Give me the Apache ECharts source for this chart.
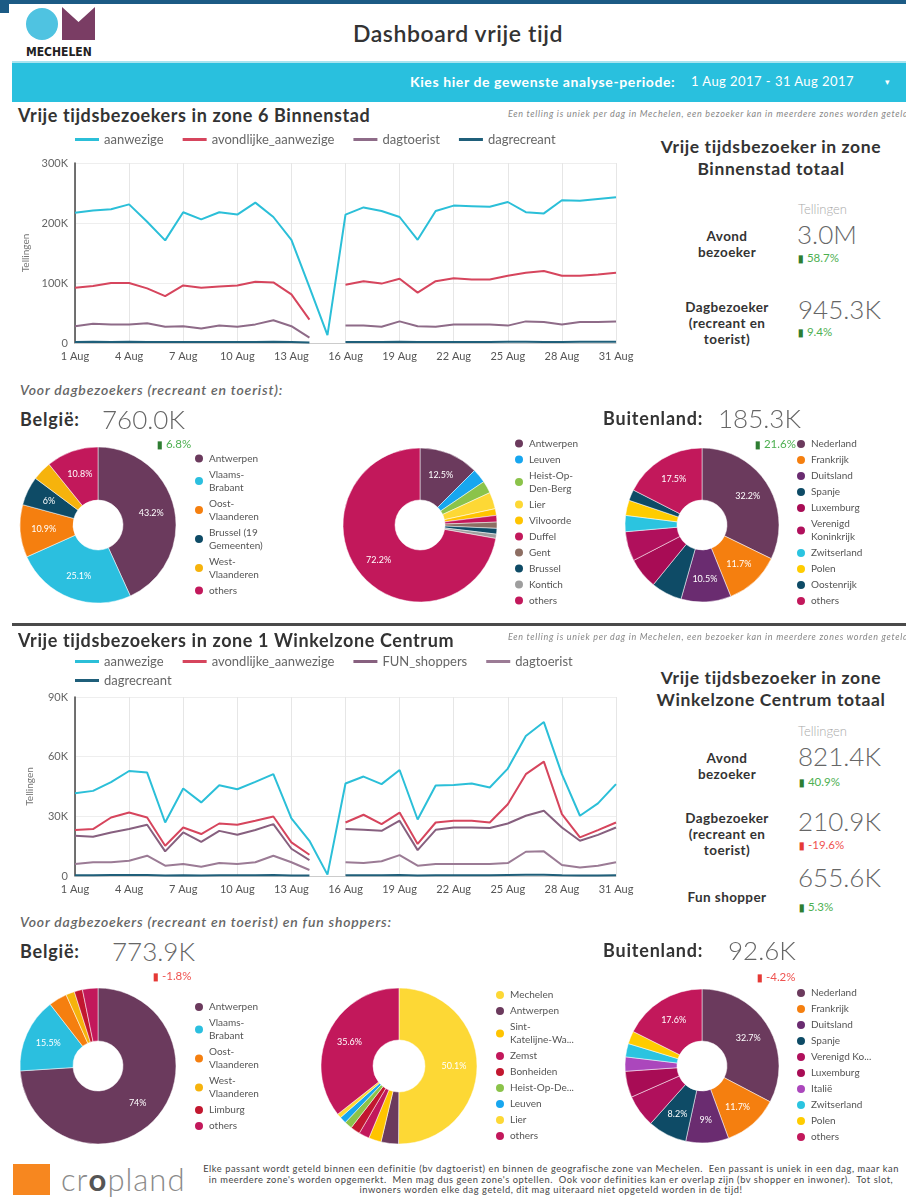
<!DOCTYPE html>
<html>
<head>
<meta charset="utf-8">
<title>Dashboard vrije tijd</title>
<script src="https://cdn.jsdelivr.net/npm/echarts/dist/echarts.min.js"></script>
<style>
html, body { margin: 0; padding: 0; background: #fff; }
body { width: 906px; height: 1198px; position: relative; overflow: hidden; font-family: Lato, "Open Sans", sans-serif; color: #333; }
.box { position: absolute; }
.l { position: absolute; transform: translateY(-50%); white-space: nowrap; line-height: 1.2; }
.c { position: absolute; transform: translate(-50%, -50%); white-space: nowrap; text-align: center; }
.sec { font-size: 18px; font-weight: 700; color: #333; letter-spacing: 0.6px; }
.note { font-size: 9px; font-style: italic; color: #888; letter-spacing: 0.7px; }
.kt { font-size: 17.5px; font-weight: 700; color: #333; line-height: 22px; letter-spacing: 0.6px; }
.kl { font-size: 13.5px; font-weight: 700; color: #333; line-height: 16px; letter-spacing: 0.4px; }
.tel { font-size: 13px; font-weight: 300; color: #aaa; }
.big { font-size: 26px; font-weight: 300; color: #666; }
.up { font-size: 11.5px; color: #4caf50; }
.up b, .down b { font-size: 10px; }
.up b { color: #2e7d32; }
.down { font-size: 11.5px; color: #ef5350; }
.down b { color: #e53935; }
.land { font-size: 18px; font-weight: 700; color: #333; letter-spacing: 0.8px; }
.voor { font-size: 14px; font-style: italic; font-weight: 600; color: #666; letter-spacing: 0.8px; }
</style>
</head>
<body>

<!-- header -->
<div class="box" style="left:0;top:0;width:906px;height:4px;background:#1c5b85"></div>
<div class="box" style="left:0;top:0;width:9px;height:13px;background:#1c5b85"></div>
<div class="box" style="left:26px;top:8px;width:32px;height:32px;border-radius:50%;background:#4fc3e1"></div>
<svg class="box" style="left:62px;top:7px" width="33" height="33"><polygon points="0,0 16.5,15 33,0 33,33 0,33" fill="#7a3d64"/></svg>
<div class="l" style="left:26px;top:52px;font-family:'DejaVu Sans Condensed','DejaVu Sans';font-stretch:condensed;font-weight:700;font-size:12px;color:#222">MECHELEN</div>
<div class="c" style="left:458px;top:33px;font-size:23px;font-weight:600;color:#333;letter-spacing:0.6px">Dashboard vrije tijd</div>
<div class="box" style="left:12px;top:61px;width:894px;height:2px;background:#a9e4ef"></div>
<div class="box" style="left:12px;top:63px;width:894px;height:39px;background:#29c0de"></div>
<div class="l" style="left:410px;top:82px;font-size:14px;font-weight:700;color:#fff;letter-spacing:0.6px">Kies hier de gewenste analyse-periode:</div>
<div class="l" style="left:691px;top:82px;font-size:13px;color:#fff;letter-spacing:0.45px">1 Aug 2017 - 31 Aug 2017</div>
<div class="l" style="left:885px;top:82px;font-size:9px;color:#fff">▾</div>

<!-- charts -->
<div id="line1" class="box" style="left:0;top:128px;width:640px;height:250px"></div>
<div id="line2" class="box" style="left:0;top:648px;width:640px;height:250px"></div>
<div id="pie1" class="box" style="left:0;top:435px;width:300px;height:180px"></div>
<div id="pie2" class="box" style="left:300px;top:435px;width:300px;height:180px"></div>
<div id="pie3" class="box" style="left:590px;top:435px;width:316px;height:180px"></div>
<div id="pie4" class="box" style="left:0;top:975px;width:300px;height:180px"></div>
<div id="pie5" class="box" style="left:300px;top:975px;width:300px;height:180px"></div>
<div id="pie6" class="box" style="left:590px;top:975px;width:316px;height:180px"></div>

<!-- section 1 -->
<div class="l sec" style="left:18px;top:116px">Vrije tijdsbezoekers in zone 6 Binnenstad</div>
<div class="l note" style="left:508px;top:114px">Een telling is uniek per dag in Mechelen, een bezoeker kan in meerdere zones worden geteld</div>
<div class="c kt" style="left:771px;top:158px">Vrije tijdsbezoeker in zone<br>Binnenstad totaal</div>
<div class="l tel" style="left:798px;top:210px">Tellingen</div>
<div class="c kl" style="left:727px;top:244px">Avond<br>bezoeker</div>
<div class="l big" style="left:797px;top:235px">3.0M</div>
<div class="l up" style="left:798px;top:258px"><b>▮</b> 58.7%</div>
<div class="c kl" style="left:727px;top:323px">Dagbezoeker<br>(recreant en<br>toerist)</div>
<div class="l big" style="left:798px;top:310px">945.3K</div>
<div class="l up" style="left:798px;top:332px"><b>▮</b> 9.4%</div>

<div class="l voor" style="left:20px;top:390px">Voor dagbezoekers (recreant en toerist):</div>
<div class="l land" style="left:20px;top:420px">België:</div>
<div class="l big" style="left:102px;top:420px">760.0K</div>
<div class="l up" style="left:157px;top:444px"><b>▮</b> 6.8%</div>
<div class="l land" style="left:603px;top:419px">Buitenland:</div>
<div class="l big" style="left:718px;top:419px">185.3K</div>
<div class="l up" style="left:755px;top:444px"><b>▮</b> 21.6%</div>

<div class="box" style="left:12px;top:623px;width:894px;height:3px;background:#4a4a4a"></div>

<!-- section 2 -->
<div class="l sec" style="left:18px;top:641px">Vrije tijdsbezoekers in zone 1 Winkelzone Centrum</div>
<div class="l note" style="left:508px;top:637px">Een telling is uniek per dag in Mechelen, een bezoeker kan in meerdere zones worden geteld</div>
<div class="c kt" style="left:771px;top:689px">Vrije tijdsbezoeker in zone<br>Winkelzone Centrum totaal</div>
<div class="l tel" style="left:798px;top:732px">Tellingen</div>
<div class="c kl" style="left:727px;top:766px">Avond<br>bezoeker</div>
<div class="l big" style="left:798px;top:757px">821.4K</div>
<div class="l up" style="left:799px;top:782px"><b>▮</b> 40.9%</div>
<div class="c kl" style="left:727px;top:834px">Dagbezoeker<br>(recreant en<br>toerist)</div>
<div class="l big" style="left:798px;top:822px">210.9K</div>
<div class="l down" style="left:799px;top:845px"><b>▮</b> -19.6%</div>
<div class="c kl" style="left:727px;top:897px">Fun shopper</div>
<div class="l big" style="left:798px;top:878px">655.6K</div>
<div class="l up" style="left:799px;top:907px"><b>▮</b> 5.3%</div>

<div class="l voor" style="left:20px;top:922px">Voor dagbezoekers (recreant en toerist) en fun shoppers:</div>
<div class="l land" style="left:20px;top:952px">België:</div>
<div class="l big" style="left:112px;top:952px">773.9K</div>
<div class="l down" style="left:153px;top:976px"><b>▮</b> -1.8%</div>
<div class="l land" style="left:603px;top:951px">Buitenland:</div>
<div class="l big" style="left:728px;top:951px">92.6K</div>
<div class="l down" style="left:757px;top:977px"><b>▮</b> -4.2%</div>

<!-- footer -->
<div class="box" style="left:13px;top:1164px;width:37px;height:31px;background:#f7871f"></div>
<div class="l" style="left:61px;top:1180px;font-size:31px;font-weight:300;color:#8a8a8a;letter-spacing:1px">cr<span style="color:#555;font-weight:700">o</span>pland</div>
<div class="c" style="left:551px;top:1180px;font-size:9.3px;line-height:10.5px;color:#444;letter-spacing:0.55px">Elke passant wordt geteld binnen een definitie (bv dagtoerist) en binnen de geografische zone van Mechelen.&nbsp; Een passant is uniek in een dag, maar kan<br>in meerdere zone's worden opgemerkt.&nbsp; Men mag dus geen zone's optellen.&nbsp; Ook voor definities kan er overlap zijn (bv shopper en inwoner).&nbsp; Tot slot,<br>inwoners worden elke dag geteld, dit mag uiteraard niet opgeteld worden in de tijd!</div>

<script>
const FONT = "Lato, 'Open Sans', sans-serif";

const days = ['1 Aug', '2 Aug', '3 Aug', '4 Aug', '5 Aug', '6 Aug', '7 Aug', '8 Aug', '9 Aug', '10 Aug',
  '11 Aug', '12 Aug', '13 Aug', '14 Aug', '15 Aug', '16 Aug', '17 Aug', '18 Aug', '19 Aug', '20 Aug',
  '21 Aug', '22 Aug', '23 Aug', '24 Aug', '25 Aug', '26 Aug', '27 Aug', '28 Aug', '29 Aug', '30 Aug', '31 Aug'];

// zone 6 Binnenstad, in duizenden
const binNames = ['aanwezige', 'avondlijke_aanwezige', 'dagtoerist', 'dagrecreant'];
const binAanwezige = [217, 221, 223, 231, 202, 171, 218, 206, 218, 214, 234, 210, 172, 93, 13, 214, 226, 220, 210, 172, 220, 229, 228, 227, 235, 218, 216, 238, 237, 240, 243];
const binAvond = [92, 95, 100, 100, 91, 78, 96, 92, 94, 96, 102, 101, 81, 39, null, 97, 103, 99, 107, 84, 103, 108, 106, 106, 112, 117, 120, 112, 112, 114, 117];
const binDagtoerist = [28, 32, 31, 31, 33, 27, 28, 24, 29, 27, 31, 38, 28, 9, null, 29, 29, 27, 36, 28, 27, 31, 31, 31, 29, 36, 35, 31, 35, 35, 36];
const binDagrecreant = [1.8, 1.9, 1.8, 1.9, 1.8, 1.5, 1.7, 1.6, 1.7, 1.7, 1.8, 1.9, 1.5, 0.7, null, 1.7, 1.8, 1.7, 1.9, 1.5, 1.7, 1.8, 1.8, 1.8, 1.9, 1.9, 1.8, 1.8, 1.9, 1.9, 2.0];
const binTicks = [0, 300, 100];

// zone 1 Winkelzone Centrum, in duizenden
const winNames = ['aanwezige', 'avondlijke_aanwezige', 'FUN_shoppers', 'dagtoerist', 'dagrecreant'];
const winAanwezige = [41.6, 42.8, 47.2, 52.8, 52.0, 26.9, 44.0, 37.0, 45.6, 43.6, 47.3, 51.2, 29.0, 17.7, 0.7, 46.5, 50.0, 46.2, 53.3, 28.4, 45.5, 45.8, 46.5, 44.5, 54.0, 70.4, 77.4, 51.2, 30.3, 36.5, 46.2];
const winAvond = [23.1, 23.6, 29.4, 31.9, 29.4, 15.2, 24.4, 21.1, 26.4, 25.8, 27.8, 29.9, 16.9, 10.7, null, 26.9, 30.8, 26.1, 31.9, 16.1, 26.9, 27.8, 27.8, 26.9, 36.1, 51.2, 57.5, 31.1, 19.4, 23.1, 26.9];
const winFun = [20.2, 19.7, 21.9, 23.6, 25.8, 12.4, 21.9, 17.2, 22.7, 20.7, 23.1, 26.1, 13.7, 8.0, null, 23.6, 23.2, 22.7, 27.8, 13.0, 23.2, 24.4, 24.4, 24.1, 26.4, 30.3, 32.8, 24.4, 17.7, 20.7, 24.4];
const winDagtoerist = [6.0, 6.9, 6.9, 7.7, 10.2, 5.2, 6.0, 4.7, 6.5, 6.0, 6.9, 10.2, 6.9, 3.0, null, 6.9, 6.5, 7.4, 10.5, 5.2, 6.0, 6.0, 6.0, 6.0, 6.5, 12.2, 12.4, 5.5, 4.3, 5.2, 6.9];
const winDagrecreant = [0.4, 0.4, 0.5, 0.5, 0.5, 0.3, 0.4, 0.3, 0.4, 0.4, 0.4, 0.5, 0.3, 0.2, null, 0.4, 0.4, 0.4, 0.5, 0.3, 0.4, 0.4, 0.4, 0.4, 0.5, 0.6, 0.6, 0.4, 0.3, 0.3, 0.4];
const winTicks = [0, 90, 30];

// taarten, waarden in %
const bel1Names = ['Antwerpen', 'Vlaams-Brabant', 'Oost-Vlaanderen', 'Brussel (19 Gemeenten)', 'West-Vlaanderen', 'others'];
const bel1Legend = ['Antwerpen', 'Vlaams-\nBrabant', 'Oost-\nVlaanderen', 'Brussel (19\nGemeenten)', 'West-\nVlaanderen', 'others'];
const bel1Values = [43.2, 25.1, 10.9, 6, 4, 10.8];

const gem1Names = ['Antwerpen', 'Leuven', 'Heist-Op-Den-Berg', 'Lier', 'Vilvoorde', 'Duffel', 'Gent', 'Brussel', 'Kontich', 'others'];
const gem1Legend = ['Antwerpen', 'Leuven', 'Heist-Op-\nDen-Berg', 'Lier', 'Vilvoorde', 'Duffel', 'Gent', 'Brussel', 'Kontich', 'others'];
const gem1Values = [12.5, 3.0, 2.6, 3.5, 1.4, 1.4, 1.3, 1.2, 0.9, 72.2];

const bui1Names = ['Nederland', 'Frankrijk', 'Duitsland', 'Spanje', 'Luxemburg', 'Verenigd Koninkrijk', 'Zwitserland', 'Polen', 'Oostenrijk', 'others'];
const bui1Legend = ['Nederland', 'Frankrijk', 'Duitsland', 'Spanje', 'Luxemburg', 'Verenigd\nKoninkrijk', 'Zwitserland', 'Polen', 'Oostenrijk', 'others'];
const bui1Values = [32.2, 11.7, 10.5, 6.5, 6.5, 6.2, 3.4, 3.2, 2.3, 17.5];

const bel2Names = ['Antwerpen', 'Vlaams-Brabant', 'Oost-Vlaanderen', 'West-Vlaanderen', 'Limburg', 'others'];
const bel2Legend = ['Antwerpen', 'Vlaams-\nBrabant', 'Oost-\nVlaanderen', 'West-\nVlaanderen', 'Limburg', 'others'];
const bel2Values = [74, 15.5, 3.8, 1.8, 1.7, 3.2];

const gem2Names = ['Mechelen', 'Antwerpen', 'Sint-Katelijne-Waver', 'Zemst', 'Bonheiden', 'Heist-Op-Den-Berg', 'Leuven', 'Lier', 'others'];
const gem2Legend = ['Mechelen', 'Antwerpen', 'Sint-\nKatelijne-Wa...', 'Zemst', 'Bonheiden', 'Heist-Op-De...', 'Leuven', 'Lier', 'others'];
const gem2Values = [50.1, 3.6, 2.6, 2.2, 2.0, 1.6, 1.4, 0.9, 35.6];

const bui2Names = ['Nederland', 'Frankrijk', 'Duitsland', 'Spanje', 'Verenigd Koninkrijk', 'Luxemburg', 'Italië', 'Zwitserland', 'Polen', 'others'];
const bui2Legend = ['Nederland', 'Frankrijk', 'Duitsland', 'Spanje', 'Verenigd Ko...', 'Luxemburg', 'Italië', 'Zwitserland', 'Polen', 'others'];
const bui2Values = [32.7, 11.7, 9, 8.2, 6.8, 5.5, 3, 2.8, 2.7, 17.6];

// kleuren
const binColors = ['#2bbfd8', '#d6455d', '#8e6b88', '#1f5f7a'];
const winColors = ['#2bbfd8', '#d6455d', '#87607f', '#9b7b95', '#1f5f7a'];
const bel1Colors = ['#6b3a5d', '#2bbfdf', '#f57f0f', '#0e4b66', '#f6b30c', '#c2185b'];
const gem1Colors = ['#6b3a5d', '#17a6ef', '#8bc34a', '#fdd835', '#ffc400', '#c2185b', '#8d6e63', '#0e4b66', '#9e9e9e', '#c2185b'];
const bui1Colors = ['#6b3a5d', '#f57f0f', '#6a2c70', '#0e4b66', '#a80c55', '#b0105c', '#2bc4e0', '#ffcc00', '#0e4b66', '#c2185b'];
const bel2Colors = ['#6b3a5d', '#2bbfdf', '#f57f0f', '#f6b30c', '#c2172f', '#c2185b'];
const gem2Colors = ['#fdd835', '#6b3a5d', '#ffc400', '#c2185b', '#c2172f', '#8bc34a', '#17a6ef', '#fdd835', '#c2185b'];
const bui2Colors = ['#6b3a5d', '#f57f0f', '#6a2c70', '#0e4b66', '#b0105c', '#a80c55', '#ab47bc', '#2bc4e0', '#ffcc00', '#c2185b'];

function lineChart(id, names, values, colors, ticks, gridTop, gridBottom, legendRows, legendTops) {
  const chart = echarts.init(document.getElementById(id));
  chart.setOption({
    animation: false,
    textStyle: { fontFamily: FONT },
    legend: legendRows.map((row, i) => ({
      data: row, left: 75, top: legendTops[i], padding: 0,
      icon: 'rect', itemWidth: 24, itemHeight: 3, itemGap: 19, selectedMode: false,
      textStyle: { fontSize: 13, color: '#666' }
    })),
    grid: { left: 75, right: 24, top: gridTop, bottom: gridBottom },
    xAxis: {
      type: 'category', data: days, boundaryGap: false,
      axisTick: { show: false },
      axisLine: { lineStyle: { color: '#ccc' } },
      axisLabel: { interval: 2, color: '#555', fontSize: 11, margin: 8 },
      splitLine: { show: true, interval: 2, lineStyle: { color: '#e6e6e6' } }
    },
    yAxis: {
      type: 'value', min: ticks[0], max: ticks[1], interval: ticks[2],
      name: 'Tellingen', nameLocation: 'middle', nameGap: 40,
      nameTextStyle: { fontSize: 10, color: '#777' },
      axisLine: { show: true, lineStyle: { color: '#444', width: 1.5 } },
      axisTick: { show: false },
      axisLabel: { color: '#666', fontSize: 11, margin: 7, formatter: v => v === 0 ? '0' : v + 'K' },
      splitLine: { lineStyle: { color: '#eee' } }
    },
    series: names.map((n, i) => ({
      name: n, type: 'line', data: values[i],
      symbol: 'none', showSymbol: false, connectNulls: false,
      lineStyle: { width: 2, color: colors[i] },
      itemStyle: { color: colors[i] }
    }))
  });
}

function pieChart(id, names, values, colors, legendText, center, radius, legendLeft, legendTop, minLabel) {
  const chart = echarts.init(document.getElementById(id));
  chart.setOption({
    animation: false,
    textStyle: { fontFamily: FONT },
    legend: {
      orient: 'vertical', left: legendLeft, top: legendTop, padding: 0,
      icon: 'circle', itemWidth: 10, itemHeight: 10, itemGap: 3, selectedMode: false,
      formatter: n => legendText[names.indexOf(n)],
      textStyle: { fontSize: 10, lineHeight: 13, color: '#555' }
    },
    series: [{
      type: 'pie', center: center, radius: radius, startAngle: 90, clockwise: true,
      avoidLabelOverlap: false,
      emphasis: { disabled: true },
      itemStyle: { borderColor: '#fff', borderWidth: 0.5 },
      label: {
        show: true, position: 'inside', color: '#fff', fontSize: 9,
        formatter: p => p.value >= minLabel ? p.value + '%' : ''
      },
      labelLine: { show: false },
      data: names.map((n, i) => ({ name: n, value: values[i], itemStyle: { color: colors[i] } }))
    }]
  });
}

lineChart('line1', binNames, [binAanwezige, binAvond, binDagtoerist, binDagrecreant], binColors, binTicks,
  35, 35, [binNames], [5]);
lineChart('line2', winNames, [winAanwezige, winAvond, winFun, winDagtoerist, winDagrecreant], winColors, winTicks,
  49, 22, [winNames.slice(0, 4), winNames.slice(4)], [7, 26]);

pieChart('pie1', bel1Names, bel1Values, bel1Colors, bel1Legend, [98, 90], [25, 78], 193, 17, 5);
pieChart('pie2', gem1Names, gem1Values, gem1Colors, gem1Legend, [120, 90], [25, 77], 213, 2, 10);
pieChart('pie3', bui1Names, bui1Values, bui1Colors, bui1Legend, [112, 90], [25, 77], 205, 2.5, 10);
pieChart('pie4', bel2Names, bel2Values, bel2Colors, bel2Legend, [98, 91], [25, 78], 193, 25.5, 10);
pieChart('pie5', gem2Names, gem2Values, gem2Colors, gem2Legend, [99, 91], [26, 78], 194, 13.5, 10);
pieChart('pie6', bui2Names, bui2Values, bui2Colors, bui2Legend, [112, 91], [25, 77], 205, 11.5, 8);
</script>
</body>
</html>
